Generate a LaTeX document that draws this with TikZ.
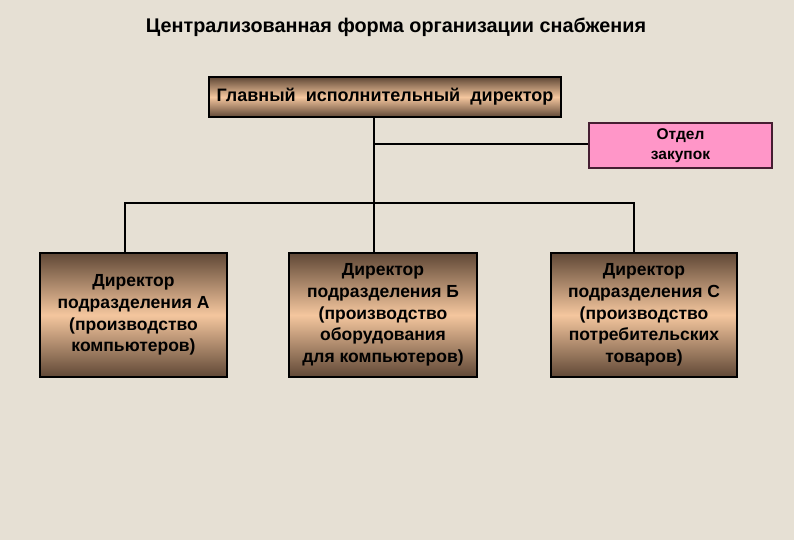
\documentclass[tikz,border=0pt]{standalone}
\usepackage{fontspec}
\setmainfont{Liberation Sans}
\definecolor{bg}{RGB}{230,224,212}
\definecolor{brdark}{RGB}{96,72,54}
\definecolor{brlight}{RGB}{244,198,158}
\definecolor{pinkbox}{RGB}{255,150,200}
\definecolor{pinkline}{RGB}{70,30,50}
\begin{document}
\begin{tikzpicture}[x=1pt,y=-1pt,
  brbox/.style={draw=black, line width=1.3pt, shading=axis, top color=brdark, bottom color=brdark, middle color=brlight, inner sep=0pt, align=center, font=\bfseries\fontsize{17.5}{21.7}\selectfont},
  pinkb/.style={draw=pinkline, line width=1.2pt, fill=pinkbox, inner sep=0pt, align=center, font=\bfseries\fontsize{15.5}{20}\selectfont},
  conn/.style={line width=2.4pt, black}]
\fill[bg] (0,0) rectangle (794,540);
\useasboundingbox (0,0) rectangle (794,540);
\node[font=\bfseries\fontsize{19.8}{22}\selectfont] (title) at (396,27) {Централизованная форма организации снабжения};
\node[brbox, font=\bfseries\fontsize{18}{21}\selectfont, minimum width=352pt, minimum height=40pt] (ceo) at (385,97) {Главный\ \ исполнительный\ \ директор};
\node[pinkb, minimum width=183pt, minimum height=45pt] (buy) at (680.5,145.5) {Отдел\\закупок};
\node[brbox, minimum width=187pt, minimum height=124pt] (a) at (133.5,315) {Директор\\подразделения А\\(производство\\компьютеров)};
\node[brbox, minimum width=188pt, minimum height=124pt] (b) at (383,315) {Директор\\подразделения Б\\(производство\\оборудования\\для компьютеров)};
\node[brbox, minimum width=186pt, minimum height=124pt] (c) at (644,315) {Директор\\подразделения С\\(производство\\потребительских\\товаров)};
\coordinate (top) at (374,117);
\coordinate (j1) at (374,144);
\coordinate (j2) at (374,203);
\coordinate (la) at (125,203);
\coordinate (lc) at (634,203);
\draw[conn] (top) -- (j2);
\draw[conn] (j1) -- (buy.west |- j1);
\draw[conn] (a.north -| la) -- (la) -- (lc) -- (c.north -| lc);
\draw[conn] (j2) -- (b.north -| j2);
\end{tikzpicture}
\end{document}
